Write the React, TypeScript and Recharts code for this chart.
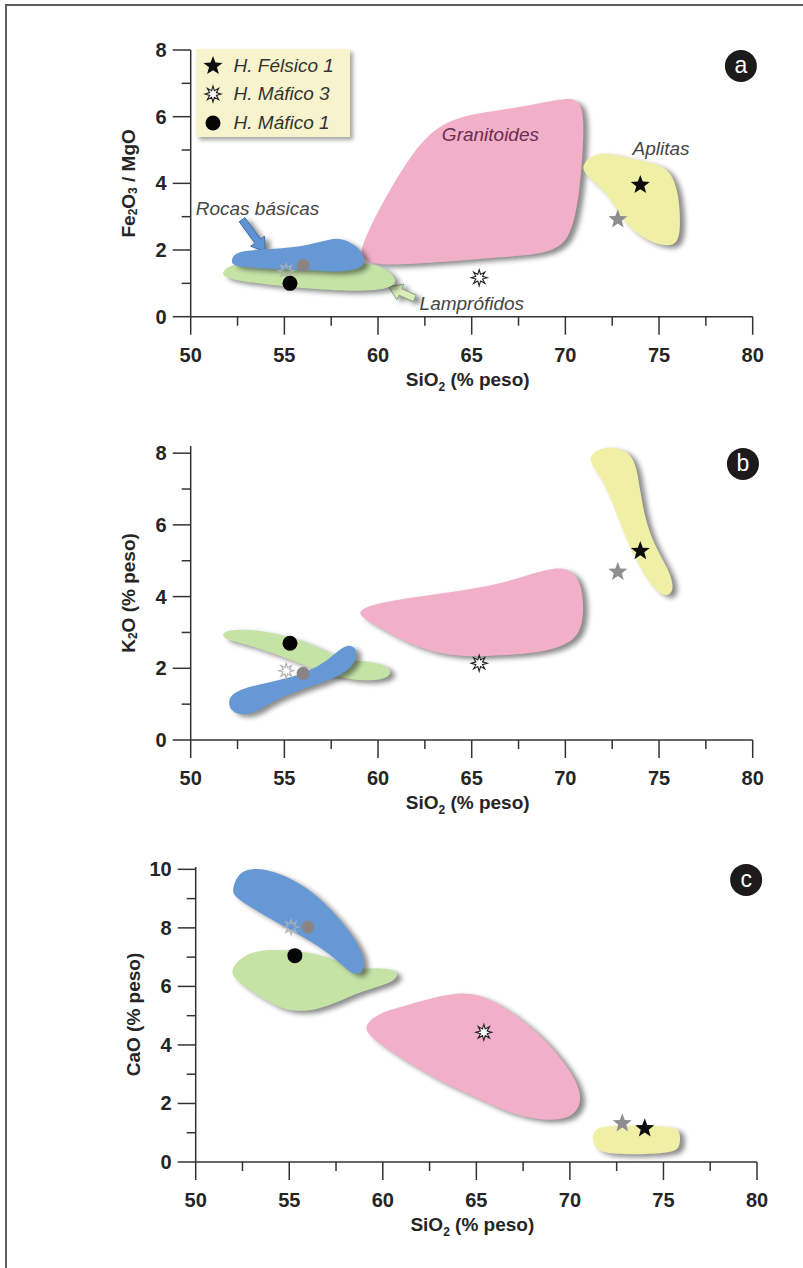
import React from "react";
import { ScatterChart, Scatter, XAxis, YAxis, ReferenceDot, ReferenceLine, Legend } from "recharts";

type P = [number, number];

// muestras (mismo SiO2 en los tres diagramas)
const sampleNames = ["H. Félsico 1", "Félsico gris", "H. Máfico 3", "H. Máfico 1", "Máfico gris", "Máfico 3 gris"];
const sampleSiO2 = [74.0, 72.8, 65.4, 55.3, 56.0, 55.1];
const fe2o3MgO = [3.95, 2.92, 1.17, 1.0, 1.54, 1.38];
const k2o = [5.27, 4.69, 2.14, 2.7, 1.86, 1.93];
const cao = [1.15, 1.32, 4.43, 7.05, 8.03, 8.03];
const legendOrder = ["H. Félsico 1", "H. Máfico 3", "H. Máfico 1"];

const xTicks = [50, 52.5, 55, 57.5, 60, 62.5, 65, 67.5, 70, 72.5, 75, 77.5, 80];
const yTicks8 = [0, 1, 2, 3, 4, 5, 6, 7, 8];
const yTicks10 = [0, 1, 2, 3, 4, 5, 6, 7, 8, 9, 10];

// campos (SiO2, valor) - diagrama a
const granitoidesA: P[] = [[59.03, 2.1], [60.6, 3.81], [61.95, 5.01], [63.3, 5.81], [65.33, 6.12], [67.57, 6.27], [69.6, 6.52], [70.94, 6.6], [71.0, 5.41], [70.75, 3.61], [70.3, 2.41], [69.37, 1.9], [66.45, 1.78], [63.08, 1.62], [60.16, 1.52], [59.1, 1.7]];
const aplitasA: P[] = [[70.94, 4.61], [71.73, 4.98], [73.19, 4.78], [74.54, 4.63], [75.6, 4.43], [76.05, 3.71], [76.15, 2.81], [76.05, 2.17], [75.21, 2.1], [74.09, 2.36], [72.97, 2.91], [72.29, 3.71], [70.9, 4.31]];
const basicasA: P[] = [[52.15, 1.7], [52.4, 1.97], [54.09, 2.02], [55.66, 2.08], [57.01, 2.25], [57.91, 2.4], [58.85, 2.15], [59.35, 1.75], [59.18, 1.43], [57.91, 1.33], [56.56, 1.4], [55.21, 1.4], [53.64, 1.46], [52.25, 1.5]];
const lamprofidosA: P[] = [[51.7, 1.35], [52.18, 1.62], [55.21, 1.62], [59.26, 1.62], [60.3, 1.5], [60.88, 1.2], [61.0, 0.96], [60.16, 0.8], [58.81, 0.76], [56.56, 0.83], [54.09, 0.96], [52.29, 1.1], [51.7, 1.22]];

// diagrama b
const granitoidesB: P[] = [[58.92, 3.59], [59.71, 3.79], [61.96, 3.99], [64.2, 4.14], [66.45, 4.34], [68.25, 4.64], [69.71, 4.86], [70.65, 4.64], [70.98, 3.99], [70.94, 3.19], [70.4, 2.72], [68.92, 2.45], [66.45, 2.35], [64.65, 2.32], [63.08, 2.42], [61.51, 2.72], [60.16, 3.11], [59.15, 3.41]];
const aplitasB: P[] = [[71.28, 7.95], [72.07, 8.2], [73.19, 8.12], [73.78, 7.75], [74.0, 6.9], [74.33, 6.0], [74.9, 5.29], [75.58, 4.69], [75.82, 4.19], [75.44, 3.98], [74.88, 4.14], [74.2, 4.59], [73.42, 5.39], [72.74, 6.3], [72.07, 7.2], [71.35, 7.7]];
const basicasB: P[] = [[58.47, 2.66], [58.83, 2.56], [58.88, 2.27], [58.47, 1.96], [57.57, 1.7], [56.45, 1.5], [55.33, 1.3], [54.31, 1.06], [53.53, 0.79], [52.85, 0.69], [52.22, 0.77], [52.0, 1.0], [52.11, 1.26], [52.85, 1.45], [54.09, 1.6], [55.44, 1.75], [56.56, 1.98], [57.46, 2.29], [58.02, 2.56]];
const lamprofidosB: P[] = [[51.7, 3.04], [52.74, 3.11], [54.76, 2.96], [56.34, 2.71], [57.46, 2.41], [58.47, 2.21], [59.71, 2.19], [60.5, 2.06], [60.75, 1.86], [60.34, 1.69], [59.26, 1.64], [57.91, 1.74], [56.79, 1.94], [55.89, 2.12], [54.76, 2.35], [53.42, 2.6], [52.29, 2.75], [51.7, 2.84]];

// diagrama c
const granitoidesC: P[] = [[59.05, 4.71], [59.79, 5.08], [60.8, 5.27], [62.38, 5.57], [63.95, 5.79], [65.08, 5.75], [66.43, 5.33], [68.01, 4.58], [69.36, 3.7], [70.26, 2.89], [70.62, 2.26], [70.46, 1.8], [69.92, 1.5], [69.02, 1.41], [67.78, 1.5], [66.43, 1.76], [65.3, 2.11], [63.95, 2.49], [62.6, 2.93], [61.25, 3.43], [59.9, 4.0], [59.15, 4.39]];
const aplitasC: P[] = [[71.2, 0.9], [71.38, 1.15], [72.05, 1.25], [73.86, 1.24], [75.55, 1.21], [75.9, 1.07], [75.9, 0.56], [75.63, 0.33], [74.08, 0.26], [72.28, 0.26], [71.54, 0.38], [71.22, 0.63]];
const basicasC: P[] = [[51.95, 9.28], [52.22, 9.87], [53.15, 10.08], [54.5, 9.87], [55.85, 9.43], [57.2, 8.68], [58.35, 7.78], [58.92, 7.15], [59.03, 6.6], [58.71, 6.38], [58.2, 6.5], [57.54, 6.9], [56.53, 7.4], [54.95, 7.97], [53.38, 8.53], [52.05, 9.06]];
const lamprofidosC: P[] = [[51.82, 6.55], [52.48, 7.05], [53.6, 7.27], [55.18, 7.23], [56.53, 7.11], [57.77, 6.8], [58.67, 6.57], [59.68, 6.64], [60.6, 6.57], [60.85, 6.4], [60.5, 6.13], [59.45, 5.94], [58.55, 5.75], [57.54, 5.44], [56.53, 5.22], [55.4, 5.12], [54.28, 5.31], [53.15, 5.75], [52.12, 6.21]];

// rótulos y flechas del diagrama a
const fieldLabelsA = [
  { text: "Granitoides", x: 66.0, y: 5.47, anchor: "middle", color: "#6b2d52" },
  { text: "Aplitas", x: 75.11, y: 5.07, anchor: "middle", color: "#454545" },
  { text: "Rocas básicas", x: 50.27, y: 3.26, anchor: "start", color: "#454545" },
  { text: "Lamprófidos", x: 62.22, y: 0.4, anchor: "start", color: "#454545" },
];
const arrowsA = [
  { from: [52.74, 2.91], to: [53.98, 1.95], fill: "#5f93d3", stroke: "#3e6ea8" },
  { from: [61.96, 0.55], to: [60.56, 0.9], fill: "#d8edb8", stroke: "#8aa57a" },
];

const FONT = "'Liberation Sans', Arial, Helvetica, sans-serif";
const AXIS = "#333";
const PINK = "#f2afc8";
const YELLOW = "#f0efa6";
const GREEN = "#c6e3a6";
const BLUE = "#6698d5";

const toXY = (pts: P[]) => pts.map(([x, y]) => ({ x, y }));

const starPath = (cx: number, cy: number, R: number, n: number, k: number) => {
  let d = "";
  for (let i = 0; i < n * 2; i++) {
    const a = -Math.PI / 2 + (i * Math.PI) / n;
    const rad = i % 2 ? R * k : R;
    d += (i ? "L" : "M") + (cx + rad * Math.cos(a)).toFixed(2) + "," + (cy + rad * Math.sin(a)).toFixed(2);
  }
  return d + "Z";
};

const drawMarker = (i: number, cx: number, cy: number) => {
  switch (i) {
    case 0:
      return <path d={starPath(cx, cy, 10, 5, 0.42)} fill="#0d0d0d" />;
    case 1:
      return <path d={starPath(cx, cy, 10, 5, 0.42)} fill="#8e8e8e" />;
    case 2:
      return <path d={starPath(cx, cy, 8, 8, 0.45)} fill="#fff" stroke="#222" strokeWidth={1.1} />;
    case 3:
      return <circle cx={cx} cy={cy} r={7.5} fill="#050505" />;
    case 4:
      return <circle cx={cx} cy={cy} r={6.5} fill="#8b8484" />;
    default:
      return <path d={starPath(cx, cy, 7.5, 8, 0.45)} fill="none" stroke="#b0b0b0" strokeWidth={1.1} />;
  }
};
const markerOrder = [5, 4, 1, 2, 3, 0];

const XTick = (p: any) => {
  const v = p.payload.value;
  const major = v % 5 === 0;
  return (
    <g>
      <line x1={p.x} x2={p.x} y1={p.y} y2={p.y + (major ? 18 : 9)} stroke={AXIS} strokeWidth={1.5} />
      {major && (
        <text x={p.x} y={p.y + 45} textAnchor="middle" fontSize={20} fontWeight="bold" fill="#252525" fontFamily={FONT}>
          {v}
        </text>
      )}
    </g>
  );
};

const YTick = (p: any) => {
  const v = p.payload.value;
  const major = v % 2 === 0;
  return (
    <g>
      <line x1={p.x} x2={p.x - (major ? 18 : 9)} y1={p.y} y2={p.y} stroke={AXIS} strokeWidth={1.5} />
      {major && (
        <text x={p.x - 24} y={p.y + 7} textAnchor="end" fontSize={20} fontWeight="bold" fill="#252525" fontFamily={FONT}>
          {v}
        </text>
      )}
    </g>
  );
};

const XTitle = (lp: any) => {
  const vb = lp.viewBox;
  return (
    <text x={vb.x + vb.width / 2 - 4} y={vb.y + 69} textAnchor="middle" fontSize={19} fontWeight="bold" fill="#252525" fontFamily={FONT}>
      SiO<tspan dy={5} fontSize={12}>2</tspan>
      <tspan dy={-5}> (% peso)</tspan>
    </text>
  );
};

const yTitles: Record<string, React.ReactNode> = {
  a: (
    <>
      Fe<tspan dy={5} fontSize={12}>2</tspan>
      <tspan dy={-5}>O</tspan>
      <tspan dy={5} fontSize={12}>3</tspan>
      <tspan dy={-5}> / MgO</tspan>
    </>
  ),
  b: (
    <>
      K<tspan dy={5} fontSize={12}>2</tspan>
      <tspan dy={-5}>O (% peso)</tspan>
    </>
  ),
  c: <>CaO (% peso)</>,
};

const Arrow = (p: any, fill: string, stroke: string) => {
  const { x1, y1, x2, y2 } = p;
  const L = Math.hypot(x2 - x1, y2 - y1) || 1;
  const ux = (x2 - x1) / L;
  const uy = (y2 - y1) / L;
  const nx = -uy;
  const ny = ux;
  const bw = 3.5;
  const hw = 8.5;
  const hl = 13;
  const bx = x2 - ux * hl;
  const by = y2 - uy * hl;
  const pts = [
    [x1 + nx * bw, y1 + ny * bw],
    [bx + nx * bw, by + ny * bw],
    [bx + nx * hw, by + ny * hw],
    [x2, y2],
    [bx - nx * hw, by - ny * hw],
    [bx - nx * bw, by - ny * bw],
    [x1 - nx * bw, y1 - ny * bw],
  ]
    .map((q) => q[0].toFixed(1) + "," + q[1].toFixed(1))
    .join(" ");
  return <polygon className="shadowed" points={pts} fill={fill} stroke={stroke} strokeWidth={1} />;
};

const LegendBox = ({ payload }: any) => {
  const items = (payload || [])
    .filter((it: any) => legendOrder.includes(it.value))
    .sort((a: any, b: any) => legendOrder.indexOf(a.value) - legendOrder.indexOf(b.value));
  return (
    <div
      style={{
        position: "relative",
        width: 154,
        height: 88,
        background: "#f7f4cd",
        boxShadow: "3px 3px 4px rgba(0,0,0,0.35)",
        fontFamily: FONT,
      }}
    >
      {items.map((it: any, i: number) => (
        <div key={it.value} style={{ position: "absolute", left: 0, top: 3.3 + i * 28.4, height: 28, width: 154 }}>
          <svg width={24} height={24} style={{ position: "absolute", left: 4.8, top: 2 }}>
            {drawMarker(sampleNames.indexOf(it.value), 12, 12)}
          </svg>
          <span
            style={{
              position: "absolute",
              left: 37.8,
              top: 3,
              fontSize: 19,
              fontStyle: "italic",
              color: "#333",
              whiteSpace: "nowrap",
              lineHeight: "22px",
            }}
          >
            {it.value}
          </span>
        </div>
      ))}
    </div>
  );
};

type PanelProps = {
  top: number;
  marginTop: number;
  plotH: number;
  yW: number;
  right: number;
  yMax: number;
  yTicks: number[];
  letter: string;
  letterAt: P;
  values: number[];
  regions: { pts: P[]; fill: string }[];
  legend?: boolean;
  labels?: typeof fieldLabelsA;
  arrows?: typeof arrowsA;
};

const Panel = (pp: PanelProps) => (
  <div style={{ position: "absolute", left: 0, top: pp.top }}>
    <ScatterChart
      width={803}
      height={pp.marginTop + pp.plotH + 80}
      margin={{ top: pp.marginTop, right: pp.right, bottom: 0, left: 0 }}
    >
      <XAxis
        type="number"
        dataKey="x"
        domain={[50, 80]}
        ticks={xTicks}
        interval={0}
        tickSize={0}
        tickMargin={0}
        tickLine={false}
        tick={XTick}
        axisLine={{ stroke: AXIS, strokeWidth: 1.5 }}
        height={80}
        label={{ content: XTitle }}
      />
      <YAxis
        type="number"
        dataKey="y"
        domain={[0, () => pp.yMax]}
        ticks={pp.yTicks}
        interval={0}
        tickSize={0}
        tickMargin={0}
        tickLine={false}
        tick={YTick}
        axisLine={{ stroke: AXIS, strokeWidth: 1.5 }}
        width={pp.yW}
        label={{
          content: (lp: any) => {
            const vb = lp.viewBox;
            const cx = vb.x + vb.width - 62.3;
            const cy = vb.y + vb.height / 2;
            return (
              <text
                x={cx}
                y={cy}
                transform={`rotate(-90 ${cx} ${cy})`}
                textAnchor="middle"
                dominantBaseline="central"
                fontSize={19}
                fontWeight="bold"
                fill="#252525"
                fontFamily={FONT}
              >
                {yTitles[pp.letter]}
              </text>
            );
          },
        }}
      />
      {pp.regions.map((r, i) => (
        <Scatter
          key={"r" + i}
          className="field"
          data={toXY(r.pts)}
          fill={r.fill}
          line={{ fill: r.fill, stroke: "none", className: "shadowed" }}
          lineJointType="basisClosed"
          shape={() => <g />}
          legendType="none"
          isAnimationActive={false}
        />
      ))}
      {(pp.arrows || []).map((a, i) => (
        <ReferenceLine
          key={"a" + i}
          segment={[
            { x: a.from[0], y: a.from[1] },
            { x: a.to[0], y: a.to[1] },
          ]}
          shape={(p: any) => Arrow(p, a.fill, a.stroke)}
        />
      ))}
      {(pp.labels || []).map((l, i) => (
        <ReferenceDot
          key={"l" + i}
          x={l.x}
          y={l.y}
          r={1}
          shape={(p: any) => (
            <text
              x={p.cx}
              y={p.cy + 7}
              textAnchor={l.anchor as any}
              fontSize={19}
              fontStyle="italic"
              fill={l.color}
              fontFamily={FONT}
            >
              {l.text}
            </text>
          )}
        />
      ))}
      {markerOrder.map((i) => (
        <Scatter
          key={"m" + i}
          name={sampleNames[i]}
          data={[{ x: sampleSiO2[i], y: pp.values[i] }]}
          shape={(p: any) => drawMarker(i, p.cx, p.cy)}
          legendType={legendOrder.includes(sampleNames[i]) ? "circle" : "none"}
          isAnimationActive={false}
        />
      ))}
      <ReferenceDot
        x={pp.letterAt[0]}
        y={pp.letterAt[1]}
        r={16}
        shape={(p: any) => (
          <g>
            <circle cx={p.cx} cy={p.cy} r={16} fill="#1c1a1a" />
            <text x={p.cx} y={p.cy + 7.5} textAnchor="middle" fontSize={23} fill="#fff" fontFamily={FONT}>
              {pp.letter}
            </text>
          </g>
        )}
      />
      {pp.legend && (
        <Legend
          layout="horizontal"
          verticalAlign="middle"
          align="center"
          wrapperStyle={{ left: 195.8, top: 48.6 - pp.top, width: 154, height: 88 }}
          content={(lp: any) => <LegendBox payload={lp.payload} />}
        />
      )}
    </ScatterChart>
  </div>
);

export default function App() {
  return (
    <div style={{ position: "absolute", left: 0, top: 0, width: 803, height: 1268, background: "#fff", fontFamily: FONT }}>
      <style>{`
        .shadowed, path.recharts-curve, .recharts-scatter-line path {
          filter: drop-shadow(5px 3px 2.5px rgba(0, 0, 0, 0.45));
        }
      `}</style>
      <div
        style={{
          position: "absolute",
          left: 5,
          top: 4,
          width: 798,
          height: 1264,
          borderLeft: "2px solid #5e5e5e",
          borderTop: "2px solid #5e5e5e",
          boxSizing: "border-box",
        }}
      />
      <Panel
        top={0}
        marginTop={50}
        plotH={266.7}
        yW={190.7}
        right={50.3}
        yMax={8}
        yTicks={yTicks8}
        letter="a"
        letterAt={[79.37, 7.52]}
        values={fe2o3MgO}
        regions={[
          { pts: granitoidesA, fill: PINK },
          { pts: aplitasA, fill: YELLOW },
          { pts: lamprofidosA, fill: GREEN },
          { pts: basicasA, fill: BLUE },
        ]}
        labels={fieldLabelsA}
        arrows={arrowsA}
        legend
      />
      <Panel
        top={400}
        marginTop={46}
        plotH={294}
        yW={190.7}
        right={50.3}
        yMax={8}
        yTicks={yTicks8}
        letter="b"
        letterAt={[79.48, 7.7]}
        values={k2o}
        regions={[
          { pts: granitoidesB, fill: PINK },
          { pts: aplitasB, fill: YELLOW },
          { pts: lamprofidosB, fill: GREEN },
          { pts: basicasB, fill: BLUE },
        ]}
      />
      <Panel
        top={820}
        marginTop={47}
        plotH={295}
        yW={195.7}
        right={46}
        yMax={10}
        yTicks={yTicks10}
        letter="c"
        letterAt={[79.42, 9.64]}
        values={cao}
        regions={[
          { pts: granitoidesC, fill: PINK },
          { pts: aplitasC, fill: YELLOW },
          { pts: lamprofidosC, fill: GREEN },
          { pts: basicasC, fill: BLUE },
        ]}
      />
    </div>
  );
}
